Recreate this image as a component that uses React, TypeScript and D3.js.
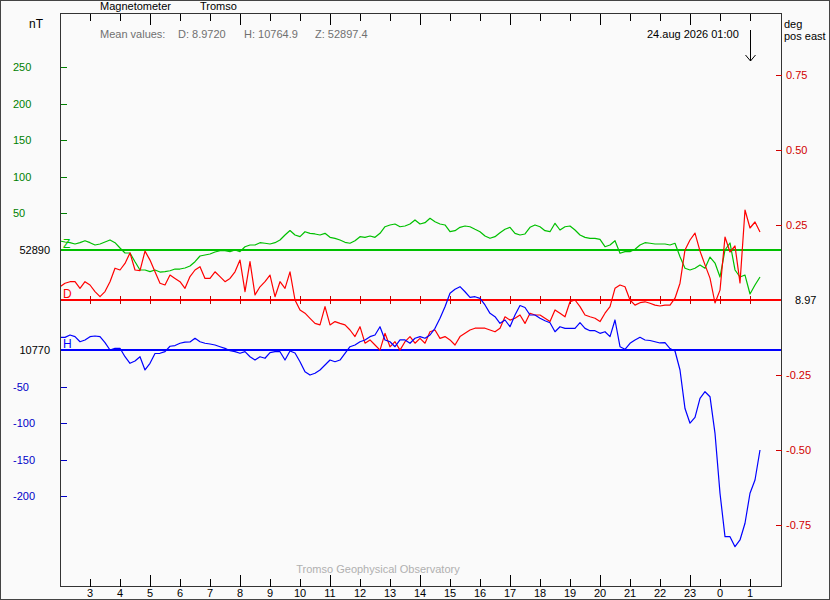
import * as d3 from 'd3';

// 10 minute samples starting 23 aug 2026 02:00 UT
const START = Date.UTC(2026, 7, 23, 2, 0);
const STEP_MIN = 10;

// Z deviation from 52890 nT
const zValues = [
  12.3, 10.9, 10.0, 8.2, 10.0, 12.7,
  10.0, 6.8, 8.2, 10.9, 13.7, 10.0,
  2.7, -4.1, -4.1, -16.0, -27.3, -27.3,
  -29.6, -27.3, -30.1, -29.6, -28.3, -26.0,
  -26.0, -24.6, -21.9, -16.0, -8.2, -6.8,
  -5.5, -2.7, -1.0, -1.0, -2.3, 0,
  -2.3, 4.5, 6.8, 6.8, 10.0, 9.2,
  8.2, 10.0, 13.7, 20.5, 26.6, 20.5,
  18.2, 25.0, 22.8, 21.9, 20.5, 22.8,
  17.3, 15.9, 13.7, 10.5, 9.2, 12.7,
  18.2, 17.3, 19.1, 17.3, 22.8, 31.8,
  34.2, 35.5, 31.8, 32.8, 35.5, 41.0,
  35.5, 37.3, 43.3, 38.7, 35.5, 34.2,
  25.0, 26.4, 31.0, 32.8, 31.8, 28.3,
  25.0, 19.1, 16.0, 18.2, 23.6, 28.3,
  31.0, 22.8, 20.5, 21.9, 31.0, 34.2,
  31.8, 26.4, 25.0, 36.5, 27.3, 31.8,
  32.8, 27.3, 20.5, 17.3, 16.0, 16.0,
  14.6, 4.5, 6.8, 12.7, -4.5, -2.3,
  -2.3, 1.0, 6.8, 10.0, 9.2, 8.2,
  8.2, 8.2, 6.8, 9.2, -9.2, -25.0,
  -27.3, -25.0, -20.5, -25.0, -9.6, -17.8,
  -36.9, 0, 9.6, -27.3, -36.9, -34.2,
  -60.1, -47.8, -36.9,
];

// H deviation from 10770 nT
const hValues = [
  17.3, 17.3, 20.5, 18.2, 11.3, 13.7,
  18.2, 19.1, 18.2, 10.0, 0, 2.3,
  2.3, -9.2, -18.2, -15.0, -9.2, -27.3,
  -18.2, -4.8, -4.5, -2.3, 5.1, 6.1,
  9.2, 10.7, 10.9, 16.0, 11.3, 9.2,
  8.2, 6.8, 4.5, 2.3, -1.0, -2.3,
  -4.5, -2.3, -9.2, -13.7, -9.2, -11.3,
  -3.7, -2.3, -2.3, -13.7, -1.4, -4.1,
  -16.0, -29.6, -34.2, -31.8, -27.3, -20.5,
  -13.7, -16.0, -13.7, -4.5, 4.5, 6.8,
  11.3, 13.7, 18.2, 20.5, 31.8, 13.7,
  11.3, 4.5, 13.7, 13.7, 9.2, 16.0,
  18.2, 16.0, 20.5, 29.6, 43.3, 59.1,
  77.5, 82.9, 86.5, 79.6, 72.0, 72.8,
  70.6, 61.5, 50.1, 45.5, 36.5, 41.0,
  31.8, 47.8, 60.8, 58.1, 47.8, 47.8,
  43.3, 40.0, 37.3, 25.0, 31.8, 29.6,
  29.6, 29.6, 37.3, 29.6, 26.4, 26.4,
  22.8, 25.0, 18.2, 41.0, 4.5, 1.0,
  9.2, 13.7, 17.3, 13.7, 13.0, 11.3,
  9.6, 10.0, 2.0, -1.4, -27.3, -80,
  -100, -92, -66.0, -57.0, -63.8, -113.8,
  -195.7, -255.0, -255.0, -268.7, -259.5, -236.7,
  -195.7, -177.6, -136.6,
];

// D deviation from 8.97 deg (pos east)
const dValues = [
  0.044, 0.056, 0.061, 0.061, 0.039, 0.061,
  0.050, 0.028, 0.011, 0.028, 0.061, 0.106,
  0.100, 0.122, 0.157, 0.100, 0.098, 0.163,
  0.133, 0.094, 0.056, 0.050, 0.083, 0.072,
  0.061, 0.039, 0.078, 0.100, 0.111, 0.072,
  0.072, 0.094, 0.078, 0.061, 0.072, 0.094,
  0.133, 0.028, 0.128, 0.017, 0.044, 0.061,
  0.083, 0.011, 0.061, 0.039, 0.094, 0.000,
  -0.033, -0.044, -0.061, -0.078, -0.083, -0.022,
  -0.083, -0.072, -0.078, -0.083, -0.100, -0.122,
  -0.089, -0.144, -0.133, -0.150, -0.167, -0.111,
  -0.156, -0.139, -0.167, -0.139, -0.122, -0.144,
  -0.128, -0.144, -0.106, -0.100, -0.128, -0.122,
  -0.133, -0.150, -0.122, -0.111, -0.100, -0.094,
  -0.094, -0.094, -0.100, -0.106, -0.094, -0.056,
  -0.067, -0.061, -0.050, -0.078, -0.044, -0.050,
  -0.050, -0.061, -0.072, -0.033, -0.044, -0.056,
  -0.006, 0.000, -0.022, -0.050, -0.056, -0.061,
  -0.072, -0.044, -0.022, 0.039, 0.050, 0.044,
  0.000, -0.017, -0.009, -0.006, -0.011, -0.017,
  -0.020, -0.017, -0.017, 0.006, 0.056, 0.167,
  0.200, 0.223, 0.163, 0.117, 0.073, -0.010,
  0.033, 0.210, 0.160, 0.180, 0.057, 0.300,
  0.240, 0.260, 0.227,
];

const zTicks = [50, 100, 150, 200, 250];
const hTicks = [-50, -100, -150, -200];
const dTicks = [0.75, 0.5, 0.25, -0.25, -0.5, -0.75];

const W = 830;
const H = 600;
const left = 60.5, right = 781.5, top = 13.5, bottom = 586.5;
const FONT = '"Liberation Sans", Arial, sans-serif';

const GREEN = '#00c000', GREEN_TXT = '#008000';
const RED = '#ff0000', RED_TXT = '#d00000';
const BLUE = '#0000ff', BLUE_TXT = '#0000c8';

const App = () => {
  const x = d3.scaleUtc()
    .domain([new Date(START), new Date(START + 24 * 3600e3)])
    .range([60, 780]);
  const yZ = d3.scaleLinear().domain([0, 250]).range([250, 67]);
  const yH = d3.scaleLinear().domain([0, -200]).range([350, 496.4]);
  const yD = d3.scaleLinear().domain([0, 0.75]).range([300, 75]);

  const t = (i: number) => new Date(START + i * STEP_MIN * 60e3);
  const lineFor = (y: d3.ScaleLinear<number, number>) =>
    d3.line<number>().x((_, i) => x(t(i))).y(d => y(d));

  const hours = d3.utcHour.range(new Date(START + 3600e3), new Date(START + 24 * 3600e3));
  const isLong = (d: Date) => d.getUTCHours() % 3 === 2;

  return (
    <svg width={W} height={H} style={{ position: 'absolute', left: 0, top: 0, background: '#fafafa' }}
      fontFamily={FONT} fontSize={11}>
      <rect x={0.5} y={0.5} width={W - 1} height={H - 1} fill="#fafafa" stroke="#444" />
      <defs>
        <clipPath id="plot">
          <rect x={left} y={top} width={right - left} height={bottom - top} />
        </clipPath>
      </defs>

      {/* header */}
      <text x={100} y={10}>Magnetometer</text>
      <text x={200} y={10}>Tromso</text>
      <g fill="#707070">
        <text x={100} y={38}>Mean values:</text>
        <text x={178} y={38}>D: 8.9720</text>
        <text x={244} y={38}>H: 10764.9</text>
        <text x={315} y={38}>Z: 52897.4</text>
      </g>
      <text x={647} y={38}>24.aug 2026 01:00</text>
      <text x={29} y={28} fontSize={12}>nT</text>
      <text x={784} y={28}>deg</text>
      <text x={784} y={40}>pos east</text>
      <text x={378} y={573} textAnchor="middle" fill="#b0b0b0">Tromso Geophysical Observatory</text>

      {/* arrow at 01:00 */}
      <g stroke="#000" fill="none" shapeRendering="crispEdges">
        <line x1={750.5} x2={750.5} y1={30} y2={61} />
        <path d="M745.5,55 L750.5,61 L755.5,55" shapeRendering="auto" />
      </g>

      {/* baselines */}
      <g strokeWidth={2} shapeRendering="crispEdges">
        <line x1={left} x2={right} y1={yZ(0)} y2={yZ(0)} stroke={GREEN} />
        <line x1={left} x2={right} y1={yD(0)} y2={yD(0)} stroke={RED} />
        <line x1={left} x2={right} y1={yH(0)} y2={yH(0)} stroke={BLUE} />
        {hours.map((d, i) => (
          <line key={i} x1={Math.round(x(d)) + 0.5} x2={Math.round(x(d)) + 0.5}
            y1={yD(0) - 4} y2={yD(0) + 4} stroke="#c00000" strokeWidth={1} />
        ))}
      </g>
      <text x={63} y={248} fill={GREEN} fontSize={12}>Z</text>
      <text x={63} y={298} fill={RED} fontSize={12}>D</text>
      <text x={63} y={348} fill={BLUE} fontSize={12}>H</text>

      {/* curves */}
      <g clipPath="url(#plot)" fill="none" strokeWidth={1.2} strokeLinejoin="round">
        <path d={lineFor(yZ)(zValues) ?? ''} stroke={GREEN} />
        <path d={lineFor(yD)(dValues) ?? ''} stroke={RED} />
        <path d={lineFor(yH)(hValues) ?? ''} stroke={BLUE} />
      </g>

      {/* frame */}
      <rect x={left} y={top} width={right - left} height={bottom - top} fill="none" stroke="#333" shapeRendering="crispEdges" />

      {/* time ticks */}
      <g stroke="#000" shapeRendering="crispEdges">
        {hours.map((d, i) => {
          const xx = Math.round(x(d)) + 0.5;
          const len = isLong(d) ? 11 : 7;
          return (
            <g key={i}>
              <line x1={xx} x2={xx} y1={top} y2={top + len} />
              <line x1={xx} x2={xx} y1={bottom} y2={bottom - len - 1} />
            </g>
          );
        })}
      </g>
      {hours.map((d, i) => (
        <text key={i} x={x(d)} y={597} textAnchor="middle">{d3.utcFormat('%-H')(d)}</text>
      ))}

      {/* left axis */}
      <g shapeRendering="crispEdges">
        {zTicks.map(v => (
          <line key={v} x1={left} x2={left + 6} y1={Math.round(yZ(v)) + 0.5} y2={Math.round(yZ(v)) + 0.5} stroke={GREEN_TXT} />
        ))}
        {hTicks.map(v => (
          <line key={v} x1={left} x2={left + 6} y1={Math.round(yH(v)) + 0.5} y2={Math.round(yH(v)) + 0.5} stroke={BLUE_TXT} />
        ))}
        {dTicks.map(v => (
          <line key={v} x1={right - 6} x2={right} y1={Math.round(yD(v)) + 0.5} y2={Math.round(yD(v)) + 0.5} stroke={RED_TXT} />
        ))}
      </g>
      {zTicks.map(v => (
        <text key={v} x={13} y={yZ(v) + 4} fill={GREEN_TXT}>{v}</text>
      ))}
      {hTicks.map(v => (
        <text key={v} x={13} y={yH(v) + 4} fill={BLUE_TXT}>{String(v)}</text>
      ))}
      <text x={50} y={yZ(0) + 4} textAnchor="end">52890</text>
      <text x={50} y={yH(0) + 4} textAnchor="end">10770</text>

      {/* right axis */}
      {dTicks.map(v => (
        <text key={v} x={786} y={yD(v) + 4} fill={RED_TXT}>{v.toFixed(2)}</text>
      ))}
      <text x={795} y={yD(0) + 4}>8.97</text>
    </svg>
  );
};

export default App;
